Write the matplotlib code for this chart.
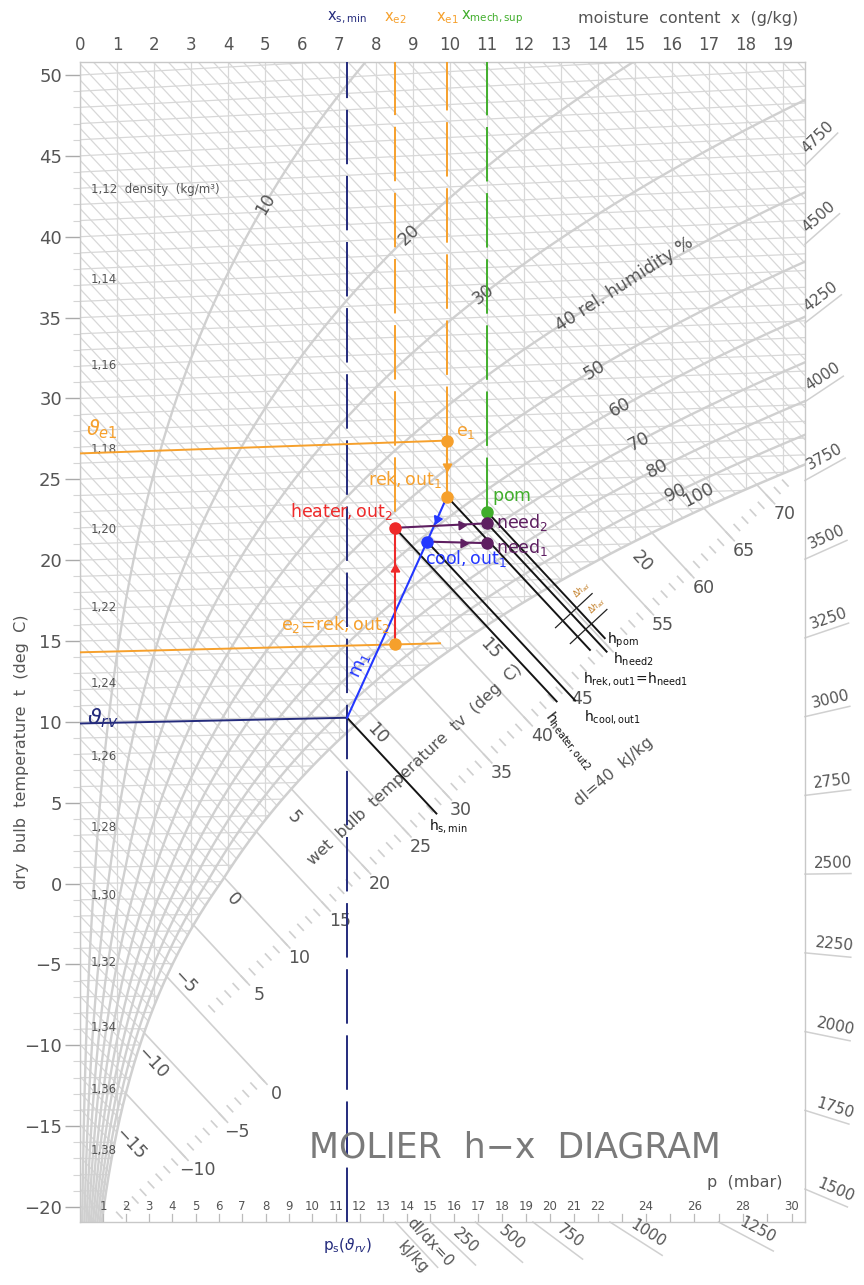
import numpy as np
import matplotlib
matplotlib.use("Agg")
import matplotlib.pyplot as plt
from matplotlib.patches import Polygon
from matplotlib.collections import LineCollection

plt.rcParams['font.family'] = ['DejaVu Sans']
plt.rcParams['mathtext.fontset'] = 'dejavusans'

# ---------------- values ----------------
moisture_ticks = list(range(0, 20))                 # g/kg (top axis)
temperature_ticks = list(range(-20, 51, 5))         # deg C (left axis)
rh_levels = [10, 20, 30, 40, 50, 60, 70, 80, 90]    # relative humidity %
rh_label_x = [5.0, 8.9, 10.9, 12.9, 13.9, 14.6, 15.1, 15.6, 16.1]
rh_label_text = ["10", "20", "30", "40 rel. humidity %", "50", "60", "70", "80", "90"]
sat_label_x = 16.7
density_values = [1.12, 1.14, 1.16, 1.18, 1.20, 1.22, 1.24, 1.26, 1.28, 1.30, 1.32, 1.34, 1.36, 1.38]
wet_bulb_values = [-15, -10, -5, 0, 5, 10, 15, 20]
h_upper_ticks = list(range(1, 73))
h_upper_major = [5, 10, 15, 20, 25, 30, 35, 40, 45, 50, 55, 60, 65, 70]
h_upper_labels = [5, 10, 15, 20, 25, 30, 35, 40, 45, 55, 60, 65, 70]   # 50 is hidden under labels
h_lower_ticks = list(range(-18, 1))
h_lower_major = [-10, -5, 0]
h_lower_labels = [-10, -5, 0]
dir_right_values = [1500, 1750, 2000, 2250, 2500, 2750, 3000, 3250, 3500, 3750, 4000, 4250, 4500, 4750]
dir_bottom_values = [0, 250, 500, 750, 1000, 1250]
dir_bottom_text = ["dI/dx=0", "250", "500", "750", "1000", "1250"]
p_tick_values = list(range(1, 31))
p_label_values = list(range(1, 22)) + [22, 24, 26, 28, 30]

x_s_min, x_e2, x_e1, x_mech_sup = 7.22, 8.51, 9.92, 11.0
e2_line_end_x = 9.73

state_names = ["e1", "rek_out1", "pom", "need2", "need1", "heater_out2", "cool_out1", "e2", "rv"]
state_x = [9.92, 9.92, 11.0, 11.0, 11.0, 8.51, 9.38, 8.51, 7.22]
state_t = [26.6, 23.2, 22.2, 21.5, 20.3, 21.4, 20.5, 14.3, 9.9]

iso_states = ["rek_out1", "pom", "need2", "heater_out2", "cool_out1", "rv"]
iso_end_x = [13.8, 14.2, 14.25, 12.9, 13.4, 9.65]
iso_text = [r'$\mathregular{h_{rek,out1}\!=\!h_{need1}}$', r'$\mathregular{h_{pom}}$',
            r'$\mathregular{h_{need2}}$', r'$\mathregular{h_{heater,out2}}$',
            r'$\mathregular{h_{cool,out1}}$', r'$\mathregular{h_{s,min}}$']

# ---------------- physics of the h-x chart ----------------
P_TOT = 1000.0
SKEW = 2.47


def ps(t):
    t = np.asarray(t, dtype=float)
    water = 6.112 * np.exp(17.62 * t / (243.12 + t))
    ice = 6.112 * np.exp(22.46 * t / (272.62 + t))
    return np.where(t < 0, ice, water)


def x_of(t, phi):
    p = phi * ps(t)
    return 622.0 * p / (P_TOT - p)


def ycoord(x, t):
    return (1.006 * t + x * (2.501 + 0.00186 * t) - SKEW * x) / 1.006


def enthalpy(x, t):
    return 1.006 * t + x * (2.501 + 0.00186 * t)


def y_iso_h(h, x):
    return (h - SKEW * x) / 1.006


def t_from_ps(p):
    a = np.log(p / 6.112)
    return 243.12 * a / (17.62 - a)


# ---------------- figure / axes layout ----------------
W, H = 864, 1285
L, R, T, B = 80, 805, 62, 1222
PX_X, PX_Y = 37.0, 16.17
fig = plt.figure(figsize=(W / 100, H / 100), dpi=100)
ax = fig.add_axes([L / W, 1 - B / H, (R - L) / W, (B - T) / H])
XMAX = (R - L) / PX_X
YMAX = 50 + (75 - T) / PX_Y
YMIN = -20 - (B - 1207) / PX_Y
ax.set_xlim(0, XMAX)
ax.set_ylim(YMIN, YMAX)

GRID = '#d8d8d8'
CURVE = '#d0d0d0'
TXT = '#555555'
NAVY, ORANGE, GREEN = '#242b7c', '#f6a02c', '#41ae2c'
RED, BLUE, PURPLE = '#ee2a2a', '#2337ff', '#5e1f61'


def move(x, y, dx_px, dy_px):
    """shift a data point by pixels (dy_px positive = downward)"""
    return x + dx_px / PX_X, y - dy_px / PX_Y


def pix_angle(dx, dy):
    return np.degrees(np.arctan2(dy * PX_Y, dx * PX_X))


# isenthalp direction unit vector (pixels, y up)
hv = np.array([PX_X, -SKEW / 1.006 * PX_Y])
hu = hv / np.hypot(*hv)


def along_h(x, y, d):
    return x + d * hu[0] / PX_X, y + d * hu[1] / PX_Y


# saturation curve and unsaturated region (clip path)
ts = np.linspace(-30, 45, 4000)
xs = x_of(ts, 1.0)
Ys = ycoord(xs, ts)
hs_sat = enthalpy(xs, ts)
Y_right = float(np.interp(XMAX, xs, Ys))
x_bottom = float(np.interp(YMIN, Ys, xs))
sel = (xs < XMAX) & (Ys > YMIN)
verts = [(-1, YMAX + 5), (XMAX + 1, YMAX + 5), (XMAX + 1, Y_right), (XMAX, Y_right)]
verts += list(zip(xs[sel][::-1], Ys[sel][::-1]))
verts += [(x_bottom, YMIN), (x_bottom, YMIN - 5), (-1, YMIN - 5)]
region = Polygon(verts, closed=True, transform=ax.transData, facecolor='none', edgecolor='none')
ax.add_patch(region)

# grid: isotherms, isenthalps, constant moisture
segs = []
for t in range(-22, 52):
    xx = np.array([0, XMAX])
    segs.append(list(zip(xx, ycoord(xx, t))))
for h in range(-22, 101):
    xx = np.array([0, XMAX])
    segs.append(list(zip(xx, y_iso_h(h, xx))))
for xv in range(0, 20):
    segs.append([(xv, YMIN), (xv, YMAX)])
lc = LineCollection(segs, colors=GRID, linewidths=0.9, zorder=1)
ax.add_collection(lc)
lc.set_clip_path(region)

# relative humidity curves
for phi in rh_levels:
    tt = np.linspace(-25, 80, 900)
    xx = x_of(tt, phi / 100)
    m = (xx > 0) & (xx < XMAX + 1)
    ax.plot(xx[m], ycoord(xx[m], tt[m]), color=CURVE, lw=1.7, zorder=2)
ax.plot(xs[xs < XMAX + 1], Ys[xs < XMAX + 1], color=CURVE, lw=1.8, zorder=2)

for phi, lx, txt in zip(rh_levels, rh_label_x, rh_label_text):
    pv = lx * P_TOT / (622 + lx)
    t0 = t_from_ps(pv / (phi / 100))
    t1 = t_from_ps((lx + 0.2) * P_TOT / (622 + lx + 0.2) / (phi / 100))
    y0, y1 = ycoord(lx, t0), ycoord(lx + 0.2, t1)
    ang = pix_angle(0.2, y1 - y0)
    ax.text(lx, y0, txt, rotation=ang, rotation_mode='anchor',
            ha='left' if len(txt) > 3 else 'center', va='center',
            fontsize=12.5, color=TXT, zorder=3)
pv = sat_label_x * P_TOT / (622 + sat_label_x)
t0 = t_from_ps(pv)
ax.text(sat_label_x, ycoord(sat_label_x, t0) + 1.0, "100", rotation=28, rotation_mode='anchor',
        ha='center', va='center', fontsize=12.5, color=TXT, zorder=3)

# density labels
for rho in density_values:
    tr = 101325 / (287.05 * rho) - 273.15
    lab = f"{rho:.2f}".replace('.', ',')
    if rho == density_values[0]:
        lab += "  density  (kg/m³)"
    ax.text(0.3, ycoord(0.3, tr) + 0.85, lab, ha='left', va='center', fontsize=8.5, color=TXT, zorder=3)

# wet bulb labels along saturation curve
for tw in wet_bulb_values:
    xw = float(x_of(tw, 1.0))
    yw = float(ycoord(xw, tw))
    lx, ly = move(xw, yw, 12, 18)
    ax.text(lx, ly, f"{tw:d}".replace('-', '\u2212'), rotation=-47, rotation_mode='anchor',
            ha='center', va='center', fontsize=12.5, color=TXT, zorder=3)

# enthalpy edge scales in fog region
UPPER = ((3.43, -8.01), (18.65, 23.9))
LOWER = ((1.35, -19.88), (5.0, -11.84))


def scale_intersect(h, line):
    (x1, y1), (x2, y2) = line
    m = (y2 - y1) / (x2 - x1)
    k = SKEW / 1.006
    x = (h / 1.006 - y1 + m * x1) / (m + k)
    return x, y_iso_h(h, x)


def draw_scale(line, ticks, major, labels):
    for h in ticks:
        xi, yi = scale_intersect(h, line)
        if not (0 < xi < XMAX and yi > YMIN):
            continue
        if yi > np.interp(xi, xs, Ys) - 0.3:
            continue
        a = along_h(xi, yi, -4)
        b = along_h(xi, yi, 4)
        ax.plot([a[0], b[0]], [a[1], b[1]], color=CURVE, lw=1.2, zorder=2)
        if h in major:
            tsat = np.interp(h, hs_sat, ts)
            xsat = float(x_of(tsat, 1.0))
            e = along_h(xi, yi, 8)
            ax.plot([xsat, e[0]], [y_iso_h(h, xsat), e[1]], color=CURVE, lw=1.2, zorder=2)
        if h in labels:
            lp = along_h(xi, yi, 22)
            ax.text(lp[0], lp[1], f"{h:d}".replace('-', '\u2212'), ha='center', va='center',
                    fontsize=12.5, color=TXT, zorder=3)


draw_scale(UPPER, h_upper_ticks, h_upper_major, h_upper_labels)
draw_scale(LOWER, h_lower_ticks, h_lower_major, h_lower_labels)

# direction (dI/dx) edge scales
for q in dir_right_values:
    s = (q / 1000 - SKEW) / 1.006
    yb = s * XMAX
    v = np.array([PX_X, s * PX_Y])
    u = v / np.hypot(*v)
    ln = 46
    x2, y2 = XMAX + ln * u[0] / PX_X, yb + ln * u[1] / PX_Y
    ax.plot([XMAX, x2], [yb, y2], color=CURVE, lw=1.1, clip_on=False)
    mx, my = XMAX + 0.62 * ln * u[0] / PX_X, yb + 0.62 * ln * u[1] / PX_Y
    nx, ny = -u[1], u[0]
    ax.text(mx + 11 * nx / PX_X, my + 11 * ny / PX_Y, str(q), rotation=np.degrees(np.arctan2(u[1], u[0])),
            rotation_mode='anchor', ha='center', va='center', fontsize=11, color=TXT, clip_on=False)

for q, txt in zip(dir_bottom_values, dir_bottom_text):
    s = (q / 1000 - SKEW) / 1.006
    xb = YMIN / s
    v = np.array([PX_X, s * PX_Y])
    u = v / np.hypot(*v)
    ln = 62
    ax.plot([xb, xb + ln * u[0] / PX_X], [YMIN, YMIN + ln * u[1] / PX_Y], color=CURVE, lw=1.1, clip_on=False)
    ang = np.degrees(np.arctan2(u[1], u[0]))
    nx, ny = -u[1], u[0]
    bx, by = xb + 38 * u[0] / PX_X, YMIN + 38 * u[1] / PX_Y
    ax.text(bx + 11 * nx / PX_X, by + 11 * ny / PX_Y, txt, rotation=ang, rotation_mode='anchor',
            ha='center', va='center', fontsize=11, color=TXT, clip_on=False)
    if q == 0:
        ax.text(bx - 11 * nx / PX_X, by - 11 * ny / PX_Y, "kJ/kg", rotation=ang, rotation_mode='anchor',
                ha='center', va='center', fontsize=11, color=TXT, clip_on=False)

# partial pressure scale (bottom)
for p in p_tick_values:
    xp = 622 * p / (P_TOT - p)
    ax.plot([xp, xp], [YMIN, YMIN + 8 / PX_Y], color='#bbbbbb', lw=0.9, zorder=3)
for p in p_label_values:
    xp = 622 * p / (P_TOT - p)
    ax.text(xp, -20, str(p), ha='center', va='center', fontsize=8.5, color=TXT, zorder=3)

# ---------------- process overlay ----------------
S = {n: (x, ycoord(x, t)) for n, x, t in zip(state_names, state_x, state_t)}
ST = {n: t for n, t in zip(state_names, state_t)}
dash = (0, (28, 6))

ax.plot([x_s_min, x_s_min], [YMIN, YMAX], color=NAVY, lw=1.4, ls=dash, zorder=6)
ax.plot([x_e2, x_e2], [S['e2'][1], YMAX], color=ORANGE, lw=1.4, ls=dash, zorder=6)
ax.plot([x_e1, x_e1], [S['e1'][1], YMAX], color=ORANGE, lw=1.4, ls=dash, zorder=6)
ax.plot([x_mech_sup, x_mech_sup], [S['pom'][1], YMAX], color=GREEN, lw=1.4, ls=dash, zorder=6)

for n, c, xend in [('e1', ORANGE, x_e1), ('e2', ORANGE, e2_line_end_x), ('rv', NAVY, x_s_min)]:
    xx = np.array([0, xend])
    ax.plot(xx, ycoord(xx, ST[n]), color=c, lw=1.4, zorder=6)

# isenthalps of the states
label_offsets = {'rek_out1': (-8, 28, 0), 'pom': (2, 2, 0), 'need2': (6, 7, 0),
                 'heater_out2': (-2, 6, -52), 'cool_out1': (8, 16, 0), 'rv': (-8, 12, 0)}
for n, xe, txt in zip(iso_states, iso_end_x, iso_text):
    x0, y0 = S[n]
    h = enthalpy(x0, ST[n])
    ye = y_iso_h(h, xe)
    ax.plot([x0, xe], [y0, ye], color='#151515', lw=1.4, zorder=7, solid_capstyle='butt')
    offs = label_offsets[n]
    tx, ty = move(xe, ye, offs[0], offs[1])
    ax.text(tx, ty, txt, rotation=offs[2], rotation_mode='anchor', ha='left',
            va='top' if offs[2] else 'center', fontsize=10, color='#111111', zorder=8)

# adiabatic difference markers
h_ref = enthalpy(S['rek_out1'][0], ST['rek_out1'])
for xm in [13.05, 13.45]:
    ym = y_iso_h(h_ref, xm)
    p1 = (xm - 10 * (-hu[1]) / PX_X, ym - 10 * hu[0] / PX_Y)
    p2 = (xm + 40 * (-hu[1]) / PX_X, ym + 40 * hu[0] / PX_Y)
    ax.plot([p1[0], p2[0]], [p1[1], p2[1]], color='#222222', lw=0.9, zorder=7)
    ax.text(p2[0] - 8 * (-hu[1]) / PX_X, p2[1] - 8 * hu[0] / PX_Y + 0.25, r'$\Delta h_{ad}$',
            rotation=43, rotation_mode='anchor', ha='center', va='bottom', fontsize=5.5, color='#c07a20', zorder=8)


def seg(a, b, c, frac=None):
    ax.plot([a[0], b[0]], [a[1], b[1]], color=c, lw=1.5, zorder=8)
    if frac is not None:
        xm, ym = a[0] + frac * (b[0] - a[0]), a[1] + frac * (b[1] - a[1])
        ang = pix_angle(b[0] - a[0], b[1] - a[1])
        ax.plot(xm, ym, marker=(3, 0, ang - 90), ms=7, color=c, zorder=9)


seg(S['e1'], S['rek_out1'], ORANGE, 0.45)
seg(S['rek_out1'], S['cool_out1'], BLUE, 0.5)
seg(S['cool_out1'], S['rv'], BLUE)
seg(S['e2'], S['heater_out2'], RED, 0.65)
seg(S['heater_out2'], S['need2'], PURPLE, 0.72)
seg(S['cool_out1'], S['need1'], PURPLE, 0.6)

for n, c in [('e1', ORANGE), ('rek_out1', ORANGE), ('e2', ORANGE), ('heater_out2', RED),
             ('cool_out1', BLUE), ('pom', GREEN), ('need2', PURPLE), ('need1', PURPLE)]:
    ax.plot(*S[n], 'o', ms=8, color=c, zorder=10)


def label(n, txt, c, dx, dy, ha='left', fs=12.5, rot=0):
    x, y = move(*S[n], dx, dy)
    ax.text(x, y, txt, color=c, ha=ha, va='center', fontsize=fs, rotation=rot, zorder=11)


label('e1', r'$\mathregular{e_1}$', ORANGE, 9, -9)
label('rek_out1', r'$\mathregular{rek,out_1}$', ORANGE, -5, -17, ha='right')
label('pom', r'$\mathregular{pom}$', GREEN, 5, -14)
label('need2', r'$\mathregular{need_2}$', PURPLE, 9, -1)
label('need1', r'$\mathregular{need_1}$', PURPLE, 9, 4)
label('heater_out2', r'$\mathregular{heater,out_2}$', RED, -2, -16, ha='right')
label('cool_out1', r'$\mathregular{cool,out_1}$', BLUE, -2, 17)
label('e2', r'$\mathregular{e_2\!=\!rek,out_2}$', ORANGE, -5, -20, ha='right')
mx, my = S['rv'][0] + 0.3 * (S['cool_out1'][0] - S['rv'][0]), S['rv'][1] + 0.3 * (S['cool_out1'][1] - S['rv'][1])
mx, my = move(mx, my, -11, 0)
ax.text(mx, my, r'$\mathregular{m_1}$', color=BLUE, fontsize=13, rotation=pix_angle(
    S['cool_out1'][0] - S['rv'][0], S['cool_out1'][1] - S['rv'][1]), ha='center', va='center', zorder=11)

ax.text(0.15, ycoord(0, ST['e1']) + 1.5, r'$\vartheta_{e1}$', color=ORANGE, fontsize=15, va='center', zorder=11)
ax.text(0.2, ycoord(0, ST['rv']) + 0.35, r'$\vartheta_{rv}$', color=NAVY, fontsize=16, va='center', zorder=11)

# top labels of the moisture lines
for xv, txt, c in [(x_s_min, r'$\mathregular{x_{s,min}}$', NAVY), (x_e2, r'$\mathregular{x_{e2}}$', ORANGE),
                   (x_e1, r'$\mathregular{x_{e1}}$', ORANGE), (x_mech_sup + 0.15, r'$\mathregular{x_{mech,sup}}$', GREEN)]:
    ax.annotate(txt, (xv, YMAX), xytext=(0, 26), textcoords='offset points', ha='center', va='bottom',
                fontsize=10.5, color=c, annotation_clip=False)
ax.annotate(r'$\mathregular{p_s(}\vartheta_{rv}\mathregular{)}$', (x_s_min, YMIN), xytext=(0, -17),
            textcoords='offset points', ha='center', va='center', fontsize=11, color=NAVY, annotation_clip=False)

# free texts
ax.text((415 - L) / PX_X, 50 - (765 - 75) / PX_Y, "wet  bulb  temperature  tv  (deg  C)",
        rotation=43, ha='center', va='center', fontsize=11.5, color=TXT, zorder=3)
ax.text((614 - L) / PX_X, 50 - (772 - 75) / PX_Y, "dI=40  kJ/kg", rotation=40, ha='center', va='center',
        fontsize=11.5, color=TXT, zorder=3)
fig.text(515 / W, 1 - 1147 / H, "MOLIER  h\u2212x  DIAGRAM", ha='center', va='center', fontsize=25, color='#7a7a7a')
fig.text(745 / W, 1 - 1182 / H, "p  (mbar)", ha='center', va='center', fontsize=11.5, color=TXT)
fig.text(688 / W, 1 - 18 / H, "moisture  content  x  (g/kg)", ha='center', va='center', fontsize=11.5, color=TXT)
fig.text(22 / W, 1 - 752 / H, "dry  bulb  temperature  t  (deg  C)", rotation=90, ha='center', va='center',
         fontsize=11.5, color=TXT)

# axes styling
for sp in ax.spines.values():
    sp.set_color('#c8c8c8')
    sp.set_linewidth(1.0)
ax.set_yticks(temperature_ticks)
ax.set_yticks(list(range(-20, 51)), minor=True)
ax.tick_params(axis='y', which='major', length=11, width=1, color='#aaaaaa', labelsize=13, labelcolor=TXT, pad=2)
ax.tick_params(axis='y', which='minor', length=5, width=0.8, color='#d5d5d5')
ax.xaxis.set_ticks_position('top')
ax.set_xticks(moisture_ticks)
ax.tick_params(axis='x', which='both', length=0, labelsize=12, labelcolor=TXT, pad=6)

fig.savefig("out.png", dpi=100)
